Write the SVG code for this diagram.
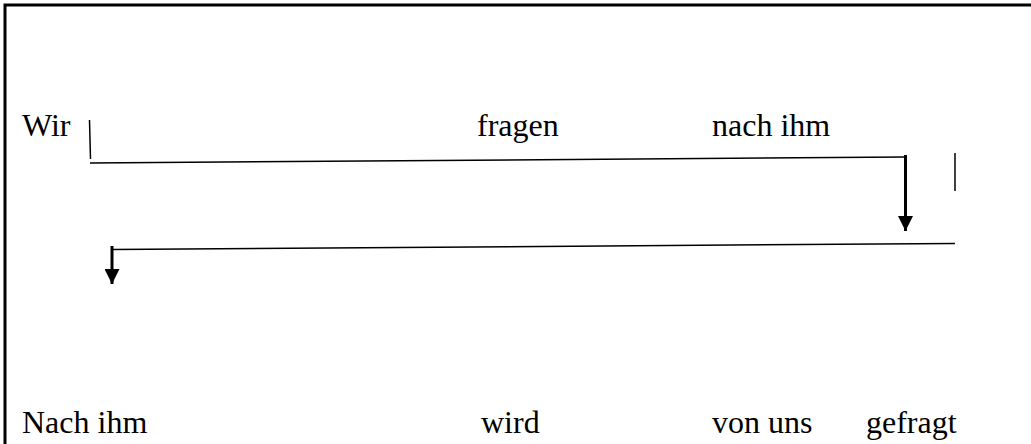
<svg xmlns="http://www.w3.org/2000/svg" width="1031" height="444" viewBox="0 0 1031 444">
  <style>
    text { font-family: "Liberation Serif", "Times New Roman", Times, serif; font-size: 32px; fill: #000; }
    .line { stroke: #000; stroke-width: 1.5; fill: none; }
    .arrow { stroke: #000; stroke-width: 3; fill: none; }
  </style>
  <defs>
    <marker id="head" viewBox="0 0 10 10" refX="10" refY="5" markerWidth="5" markerHeight="5" markerUnits="strokeWidth" orient="auto">
      <path d="M0,0 L10,5 L0,10 Z" fill="#000"/>
    </marker>
  </defs>

  <!-- frame -->
  <path d="M5,444 V5 H1031" stroke="#000" stroke-width="3" fill="none"/>

  <!-- upper sentence -->
  <g id="wir"><text x="22" y="136">Wir</text></g>
  <g id="fragen"><text x="477" y="136">fragen</text></g>
  <g id="nach-ihm-upper"><text x="712" y="136">nach ihm</text></g>

  <!-- lower sentence -->
  <g id="nach-ihm-lower"><text x="22" y="433">Nach ihm</text></g>
  <g id="wird"><text x="481" y="433">wird</text></g>
  <g id="von-uns"><text x="712" y="433">von uns</text></g>
  <g id="gefragt"><text x="866" y="433">gefragt</text></g>

  <!-- connectors -->
  <g id="connectors">
    <line class="line" x1="89.5" y1="120" x2="90.5" y2="159"/>
    <line class="line" x1="90" y1="163" x2="905" y2="157"/>
    <line class="arrow" x1="905.5" y1="155" x2="905.5" y2="231" marker-end="url(#head)"/>
    <line class="line" x1="955" y1="153" x2="955" y2="191"/>
    <line class="line" x1="955" y1="243.5" x2="112" y2="249.5"/>
    <line class="arrow" x1="112" y1="246" x2="112" y2="284" marker-end="url(#head)"/>
  </g>
</svg>
